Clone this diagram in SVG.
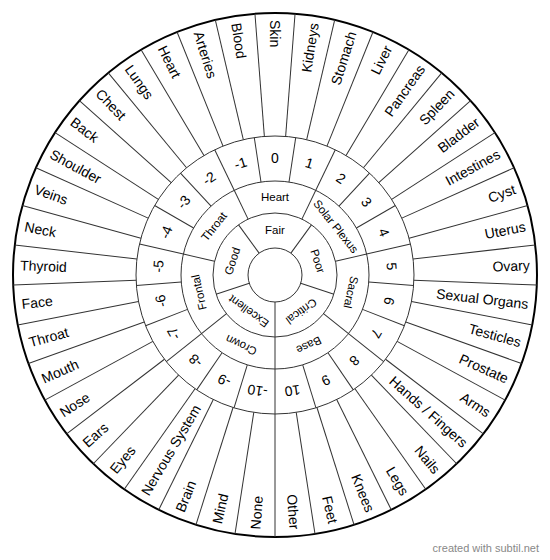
<svg xmlns="http://www.w3.org/2000/svg" width="550" height="560" viewBox="0 0 550 560">
<style>
.ring{fill:none;stroke:#333;stroke-width:1}
.outer{fill:none;stroke:#000;stroke-width:2}
.sp line{stroke:#333;stroke-width:1}
text{font-family:"Liberation Sans",Arial,sans-serif;fill:#000}
.o{font-size:14px}
.n{font-size:14px;text-anchor:middle}
.c{font-size:11.5px;text-anchor:middle}
.r{text-anchor:end}
.l{text-anchor:start}
.foot{font-size:11px;fill:#888;text-anchor:end}
</style>
<rect width="550" height="560" fill="#fff"/>
<g transform="translate(275,275)">
<g id="circles">
<circle class="outer" r="262"/>
<circle class="ring" r="139"/>
<circle class="ring" r="94"/>
<circle class="ring" r="62"/>
<circle class="ring" r="27"/>
</g>
<g id="spokes-outer" class="sp">
<line y1="-139" y2="-262" transform="rotate(4.390)"/><line y1="-139" y2="-262" transform="rotate(13.171)"/><line y1="-139" y2="-262" transform="rotate(21.951)"/><line y1="-139" y2="-262" transform="rotate(30.732)"/><line y1="-139" y2="-262" transform="rotate(39.512)"/><line y1="-139" y2="-262" transform="rotate(48.293)"/><line y1="-139" y2="-262" transform="rotate(57.073)"/><line y1="-139" y2="-262" transform="rotate(65.854)"/><line y1="-139" y2="-262" transform="rotate(74.634)"/><line y1="-139" y2="-262" transform="rotate(83.415)"/><line y1="-139" y2="-262" transform="rotate(92.195)"/><line y1="-139" y2="-262" transform="rotate(100.976)"/><line y1="-139" y2="-262" transform="rotate(109.756)"/><line y1="-139" y2="-262" transform="rotate(118.537)"/><line y1="-139" y2="-262" transform="rotate(127.317)"/><line y1="-139" y2="-262" transform="rotate(136.098)"/><line y1="-139" y2="-262" transform="rotate(144.878)"/><line y1="-139" y2="-262" transform="rotate(153.659)"/><line y1="-139" y2="-262" transform="rotate(162.439)"/><line y1="-139" y2="-262" transform="rotate(171.220)"/><line y1="-139" y2="-262" transform="rotate(180)"/><line y1="-139" y2="-262" transform="rotate(188.780)"/><line y1="-139" y2="-262" transform="rotate(197.561)"/><line y1="-139" y2="-262" transform="rotate(206.341)"/><line y1="-139" y2="-262" transform="rotate(215.122)"/><line y1="-139" y2="-262" transform="rotate(223.902)"/><line y1="-139" y2="-262" transform="rotate(232.683)"/><line y1="-139" y2="-262" transform="rotate(241.463)"/><line y1="-139" y2="-262" transform="rotate(250.244)"/><line y1="-139" y2="-262" transform="rotate(259.024)"/><line y1="-139" y2="-262" transform="rotate(267.805)"/><line y1="-139" y2="-262" transform="rotate(276.585)"/><line y1="-139" y2="-262" transform="rotate(285.366)"/><line y1="-139" y2="-262" transform="rotate(294.146)"/><line y1="-139" y2="-262" transform="rotate(302.927)"/><line y1="-139" y2="-262" transform="rotate(311.707)"/><line y1="-139" y2="-262" transform="rotate(320.488)"/><line y1="-139" y2="-262" transform="rotate(329.268)"/><line y1="-139" y2="-262" transform="rotate(338.049)"/><line y1="-139" y2="-262" transform="rotate(346.829)"/><line y1="-139" y2="-262" transform="rotate(355.610)"/>
</g>
<g id="spokes-numbers" class="sp">
<line y1="-94" y2="-139" transform="rotate(8.571)"/><line y1="-94" y2="-139" transform="rotate(25.714)"/><line y1="-94" y2="-139" transform="rotate(42.857)"/><line y1="-94" y2="-139" transform="rotate(60)"/><line y1="-94" y2="-139" transform="rotate(77.143)"/><line y1="-94" y2="-139" transform="rotate(94.286)"/><line y1="-94" y2="-139" transform="rotate(111.429)"/><line y1="-94" y2="-139" transform="rotate(128.571)"/><line y1="-94" y2="-139" transform="rotate(145.714)"/><line y1="-94" y2="-139" transform="rotate(162.857)"/><line y1="-94" y2="-139" transform="rotate(180)"/><line y1="-94" y2="-139" transform="rotate(197.143)"/><line y1="-94" y2="-139" transform="rotate(214.286)"/><line y1="-94" y2="-139" transform="rotate(231.429)"/><line y1="-94" y2="-139" transform="rotate(248.571)"/><line y1="-94" y2="-139" transform="rotate(265.714)"/><line y1="-94" y2="-139" transform="rotate(282.857)"/><line y1="-94" y2="-139" transform="rotate(300)"/><line y1="-94" y2="-139" transform="rotate(317.143)"/><line y1="-94" y2="-139" transform="rotate(334.286)"/><line y1="-94" y2="-139" transform="rotate(351.429)"/>
</g>
<g id="spokes-chakra" class="sp">
<line y1="-62" y2="-94" transform="rotate(25.714)"/><line y1="-62" y2="-94" transform="rotate(77.143)"/><line y1="-62" y2="-94" transform="rotate(128.571)"/><line y1="-62" y2="-94" transform="rotate(180)"/><line y1="-62" y2="-94" transform="rotate(231.429)"/><line y1="-62" y2="-94" transform="rotate(282.857)"/><line y1="-62" y2="-94" transform="rotate(334.286)"/>
</g>
<g id="spokes-status" class="sp">
<line y1="-27" y2="-62" transform="rotate(36)"/><line y1="-27" y2="-62" transform="rotate(108)"/><line y1="-27" y2="-62" transform="rotate(180)"/><line y1="-27" y2="-62" transform="rotate(252)"/><line y1="-27" y2="-62" transform="rotate(324)"/>
</g>
<g id="labels-outer" class="o">
<text class="l" dy=".35em" transform="rotate(90) translate(-255,0)">Skin</text>
<text class="r" dy=".35em" transform="rotate(-81.220) translate(255,0)">Kidneys</text>
<text class="r" dy=".35em" transform="rotate(-72.439) translate(255,0)">Stomach</text>
<text class="r" dy=".35em" transform="rotate(-63.659) translate(255,0)">Liver</text>
<text class="r" dy=".35em" transform="rotate(-54.878) translate(255,0)">Pancreas</text>
<text class="r" dy=".35em" transform="rotate(-46.098) translate(255,0)">Spleen</text>
<text class="r" dy=".35em" transform="rotate(-37.317) translate(255,0)">Bladder</text>
<text class="r" dy=".35em" transform="rotate(-28.537) translate(255,0)">Intestines</text>
<text class="r" dy=".35em" transform="rotate(-19.756) translate(255,0)">Cyst</text>
<text class="r" dy=".35em" transform="rotate(-10.976) translate(255,0)">Uterus</text>
<text class="r" dy=".35em" transform="rotate(-2.195) translate(255,0)">Ovary</text>
<text class="r" dy=".35em" transform="rotate(6.585) translate(255,0)">Sexual Organs</text>
<text class="r" dy=".35em" transform="rotate(15.366) translate(255,0)">Testicles</text>
<text class="r" dy=".35em" transform="rotate(24.146) translate(255,0)">Prostate</text>
<text class="r" dy=".35em" transform="rotate(32.927) translate(255,0)">Arms</text>
<text class="r" dy=".35em" transform="rotate(41.707) translate(255,0)">Hands / Fingers</text>
<text class="r" dy=".35em" transform="rotate(50.488) translate(255,0)">Nails</text>
<text class="r" dy=".35em" transform="rotate(59.268) translate(255,0)">Legs</text>
<text class="r" dy=".35em" transform="rotate(68.049) translate(255,0)">Knees</text>
<text class="r" dy=".35em" transform="rotate(76.829) translate(255,0)">Feet</text>
<text class="r" dy=".35em" transform="rotate(85.610) translate(255,0)">Other</text>
<text class="l" dy=".35em" transform="rotate(-85.610) translate(-255,0)">None</text>
<text class="l" dy=".35em" transform="rotate(-76.829) translate(-255,0)">Mind</text>
<text class="l" dy=".35em" transform="rotate(-68.049) translate(-255,0)">Brain</text>
<text class="l" dy=".35em" transform="rotate(-59.268) translate(-255,0)">Nervous System</text>
<text class="l" dy=".35em" transform="rotate(-50.488) translate(-255,0)">Eyes</text>
<text class="l" dy=".35em" transform="rotate(-41.707) translate(-255,0)">Ears</text>
<text class="l" dy=".35em" transform="rotate(-32.927) translate(-255,0)">Nose</text>
<text class="l" dy=".35em" transform="rotate(-24.146) translate(-255,0)">Mouth</text>
<text class="l" dy=".35em" transform="rotate(-15.366) translate(-255,0)">Throat</text>
<text class="l" dy=".35em" transform="rotate(-6.585) translate(-255,0)">Face</text>
<text class="l" dy=".35em" transform="rotate(2.195) translate(-255,0)">Thyroid</text>
<text class="l" dy=".35em" transform="rotate(10.976) translate(-255,0)">Neck</text>
<text class="l" dy=".35em" transform="rotate(19.756) translate(-255,0)">Veins</text>
<text class="l" dy=".35em" transform="rotate(28.537) translate(-255,0)">Shoulder</text>
<text class="l" dy=".35em" transform="rotate(37.317) translate(-255,0)">Back</text>
<text class="l" dy=".35em" transform="rotate(46.098) translate(-255,0)">Chest</text>
<text class="l" dy=".35em" transform="rotate(54.878) translate(-255,0)">Lungs</text>
<text class="l" dy=".35em" transform="rotate(63.659) translate(-255,0)">Heart</text>
<text class="l" dy=".35em" transform="rotate(72.439) translate(-255,0)">Arteries</text>
<text class="l" dy=".35em" transform="rotate(81.220) translate(-255,0)">Blood</text>
</g>
<g id="labels-numbers" class="n">
<text dy=".35em" transform="rotate(0) translate(0,-117)">0</text>
<text dy=".35em" transform="rotate(17.143) translate(0,-117)">1</text>
<text dy=".35em" transform="rotate(34.286) translate(0,-117)">2</text>
<text dy=".35em" transform="rotate(51.429) translate(0,-117)">3</text>
<text dy=".35em" transform="rotate(68.571) translate(0,-117)">4</text>
<text dy=".35em" transform="rotate(85.714) translate(0,-117)">5</text>
<text dy=".35em" transform="rotate(102.857) translate(0,-117)">6</text>
<text dy=".35em" transform="rotate(120) translate(0,-117)">7</text>
<text dy=".35em" transform="rotate(137.143) translate(0,-117)">8</text>
<text dy=".35em" transform="rotate(154.286) translate(0,-117)">9</text>
<text dy=".35em" transform="rotate(171.429) translate(0,-117)">10</text>
<text dy=".35em" transform="rotate(-17.143) translate(0,-117)">-1</text>
<text dy=".35em" transform="rotate(-34.286) translate(0,-117)">-2</text>
<text dy=".35em" transform="rotate(-51.429) translate(0,-117)">-3</text>
<text dy=".35em" transform="rotate(-68.571) translate(0,-117)">-4</text>
<text dy=".35em" transform="rotate(-85.714) translate(0,-117)">-5</text>
<text dy=".35em" transform="rotate(-102.857) translate(0,-117)">-6</text>
<text dy=".35em" transform="rotate(-120) translate(0,-117)">-7</text>
<text dy=".35em" transform="rotate(-137.143) translate(0,-117)">-8</text>
<text dy=".35em" transform="rotate(-154.286) translate(0,-117)">-9</text>
<text dy=".35em" transform="rotate(-171.429) translate(0,-117)">-10</text>
</g>
<g id="labels-chakra" class="c">
<text dy=".35em" transform="rotate(0) translate(0,-78)">Heart</text>
<text dy=".35em" transform="rotate(51.429) translate(0,-78)">Solar Plexus</text>
<text dy=".35em" transform="rotate(102.857) translate(0,-78)">Sacral</text>
<text dy=".35em" transform="rotate(154.286) translate(0,-78)">Base</text>
<text dy=".35em" transform="rotate(205.714) translate(0,-78)">Crown</text>
<text dy=".35em" transform="rotate(257.143) translate(0,-78)">Frontal</text>
<text dy=".35em" transform="rotate(308.571) translate(0,-78)">Throat</text>
</g>
<g id="labels-status" class="c">
<text dy=".35em" transform="rotate(0) translate(0,-45)">Fair</text>
<text dy=".35em" transform="rotate(72) translate(0,-45)">Poor</text>
<text dy=".35em" transform="rotate(144) translate(0,-45)">Critical</text>
<text dy=".35em" transform="rotate(216) translate(0,-45)">Excellent</text>
<text dy=".35em" transform="rotate(288) translate(0,-45)">Good</text>
</g>
</g>
<text class="foot" x="539" y="552">created with subtil.net</text>
</svg>
